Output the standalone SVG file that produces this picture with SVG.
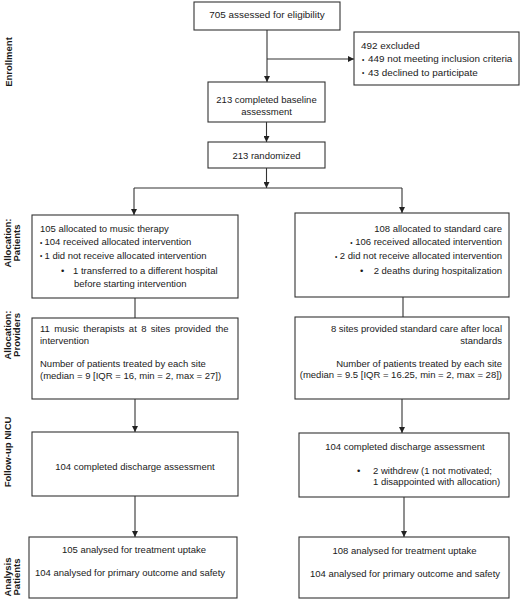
<svg xmlns="http://www.w3.org/2000/svg" width="520" height="600" viewBox="0 0 520 600">
<style>
.box{fill:#fff;stroke:#333;stroke-width:1.1}
.t{font-family:"Liberation Sans",Arial,sans-serif;font-size:9.5px;fill:#1a1a1a}
.x{font-size:9.9px}
.c{text-anchor:middle}
.r{text-anchor:end}
.lab{font-family:"Liberation Sans",Arial,sans-serif;font-size:9.5px;font-weight:bold;fill:#1a1a1a;text-anchor:middle}
.sb{font-size:6.5px}
.conn path{fill:none;stroke:#333;stroke-width:1.1}
</style>
<defs>
<marker id="ah" markerUnits="userSpaceOnUse" markerWidth="6" markerHeight="6" refX="6" refY="3" orient="auto">
<path d="M0,0 L6,3 L0,6 z" fill="#222"/>
</marker>
</defs>
<rect width="520" height="600" fill="#fff"/>

<g id="labels">
<text class="lab" transform="translate(11.5,62) rotate(-90)">Enrollment</text>
<text class="lab" transform="translate(10.5,243) rotate(-90)">Allocation:</text>
<text class="lab" transform="translate(19.5,243) rotate(-90)">Patients</text>
<text class="lab" transform="translate(10.5,335) rotate(-90)">Allocation:</text>
<text class="lab" transform="translate(19.5,335) rotate(-90)">Providers</text>
<text class="lab" transform="translate(11,452) rotate(-90)">Follow-up NICU</text>
<text class="lab" transform="translate(10.5,577) rotate(-90)">Analysis</text>
<text class="lab" transform="translate(19.5,577) rotate(-90)">Patients</text>
</g>

<g class="conn" id="connectors">
<path d="M267,30 V82" marker-end="url(#ah)"/>
<path d="M267,59 H354" marker-end="url(#ah)"/>
<path d="M266.5,122 V142" marker-end="url(#ah)"/>
<path d="M266.5,168 V188" marker-end="url(#ah)"/>
<path d="M134,188 H402"/>
<path d="M134,188 V215" marker-end="url(#ah)"/>
<path d="M402,188 V213" marker-end="url(#ah)"/>
<path d="M135,298 V318"/>
<path d="M403,297 V317"/>
<path d="M135,399 V432" marker-end="url(#ah)"/>
<path d="M402,399 V433" marker-end="url(#ah)"/>
<path d="M135,496 V537" marker-end="url(#ah)"/>
<path d="M404,497 V537" marker-end="url(#ah)"/>
</g>

<g id="assessed">
<rect class="box" x="194" y="2" width="146" height="28"/>
<text class="t x c" x="267" y="17.5">705 assessed for eligibility</text>
</g>

<g id="excluded">
<rect class="box" x="354" y="32" width="165" height="53"/>
<text class="t x" x="361" y="48.5">492 excluded</text>
<text class="t sb" x="362" y="61.5">•</text>
<text class="t x" x="368" y="62">449 not meeting inclusion criteria</text>
<text class="t sb" x="362" y="75">•</text>
<text class="t x" x="368" y="75.5">43 declined to participate</text>
</g>

<g id="baseline">
<rect class="box" x="208" y="82" width="117" height="40"/>
<text class="t c" x="266.5" y="103">213 completed baseline</text>
<text class="t c" x="266.5" y="114.5">assessment</text>
</g>

<g id="randomized">
<rect class="box" x="208" y="142" width="117" height="26"/>
<text class="t c" x="266.5" y="158.5">213 randomized</text>
</g>

<g id="music-alloc">
<rect class="box" x="32" y="215" width="206" height="83"/>
<text class="t" x="40" y="231.5">105 allocated to music therapy</text>
<text class="t sb" x="40" y="244.5">•</text>
<text class="t" x="44.5" y="245">104 received allocated intervention</text>
<text class="t sb" x="40" y="258">•</text>
<text class="t" x="44.5" y="258.5">1 did not receive allocated intervention</text>
<text class="t" x="61" y="273.5">•</text>
<text class="t" x="73" y="273.5">1 transferred to a different hospital</text>
<text class="t" x="74" y="286.5">before starting intervention</text>
</g>

<g id="standard-alloc">
<rect class="box" x="295" y="213" width="214" height="84"/>
<text class="t r" x="502" y="231.5">108 allocated to standard care</text>
<text class="t r" x="502" y="245"><tspan class="sb">•</tspan> 106 received allocated intervention</text>
<text class="t r" x="502" y="258.5"><tspan class="sb">•</tspan> 2 did not receive allocated intervention</text>
<text class="t" x="360" y="273.5">•</text>
<text class="t r" x="502" y="273.5">2 deaths during hospitalization</text>
</g>

<g id="music-providers">
<rect class="box" x="32" y="318" width="206" height="81"/>
<text class="t" x="40" y="331.5" word-spacing="1.7">11 music therapists at 8 sites provided the</text>
<text class="t" x="40" y="343.5">intervention</text>
<text class="t" x="40" y="366.5">Number of patients treated by each site</text>
<text class="t" x="40" y="378.5">(median = 9 [IQR = 16, min = 2, max = 27])</text>
</g>

<g id="standard-providers">
<rect class="box" x="295" y="317" width="214" height="82"/>
<text class="t r" x="502" y="331.5">8 sites provided standard care after local</text>
<text class="t r" x="502" y="343.5">standards</text>
<text class="t r" x="502" y="366.5">Number of patients treated by each site</text>
<text class="t r" x="502" y="378">(median = 9.5 [IQR = 16.25, min = 2, max = 28])</text>
</g>

<g id="music-followup">
<rect class="box" x="32" y="432" width="206" height="64"/>
<text class="t c" x="135" y="470">104 completed discharge assessment</text>
</g>

<g id="standard-followup">
<rect class="box" x="299" y="433" width="210" height="64"/>
<text class="t c" x="405" y="450">104 completed discharge assessment</text>
<text class="t" x="357" y="473.5">•</text>
<text class="t" x="373" y="473.5">2 withdrew (1 not motivated;</text>
<text class="t" x="373" y="485">1 disappointed with allocation)</text>
</g>

<g id="music-analysis">
<rect class="box" x="29" y="537" width="208" height="61"/>
<text class="t c" x="134" y="553">105 analysed for treatment uptake</text>
<text class="t c" x="130" y="576">104 analysed for primary outcome and safety</text>
</g>

<g id="standard-analysis">
<rect class="box" x="299" y="537" width="210" height="61"/>
<text class="t c" x="404.5" y="553.5">108 analysed for treatment uptake</text>
<text class="t c" x="405" y="576.5">104 analysed for primary outcome and safety</text>
</g>
</svg>
